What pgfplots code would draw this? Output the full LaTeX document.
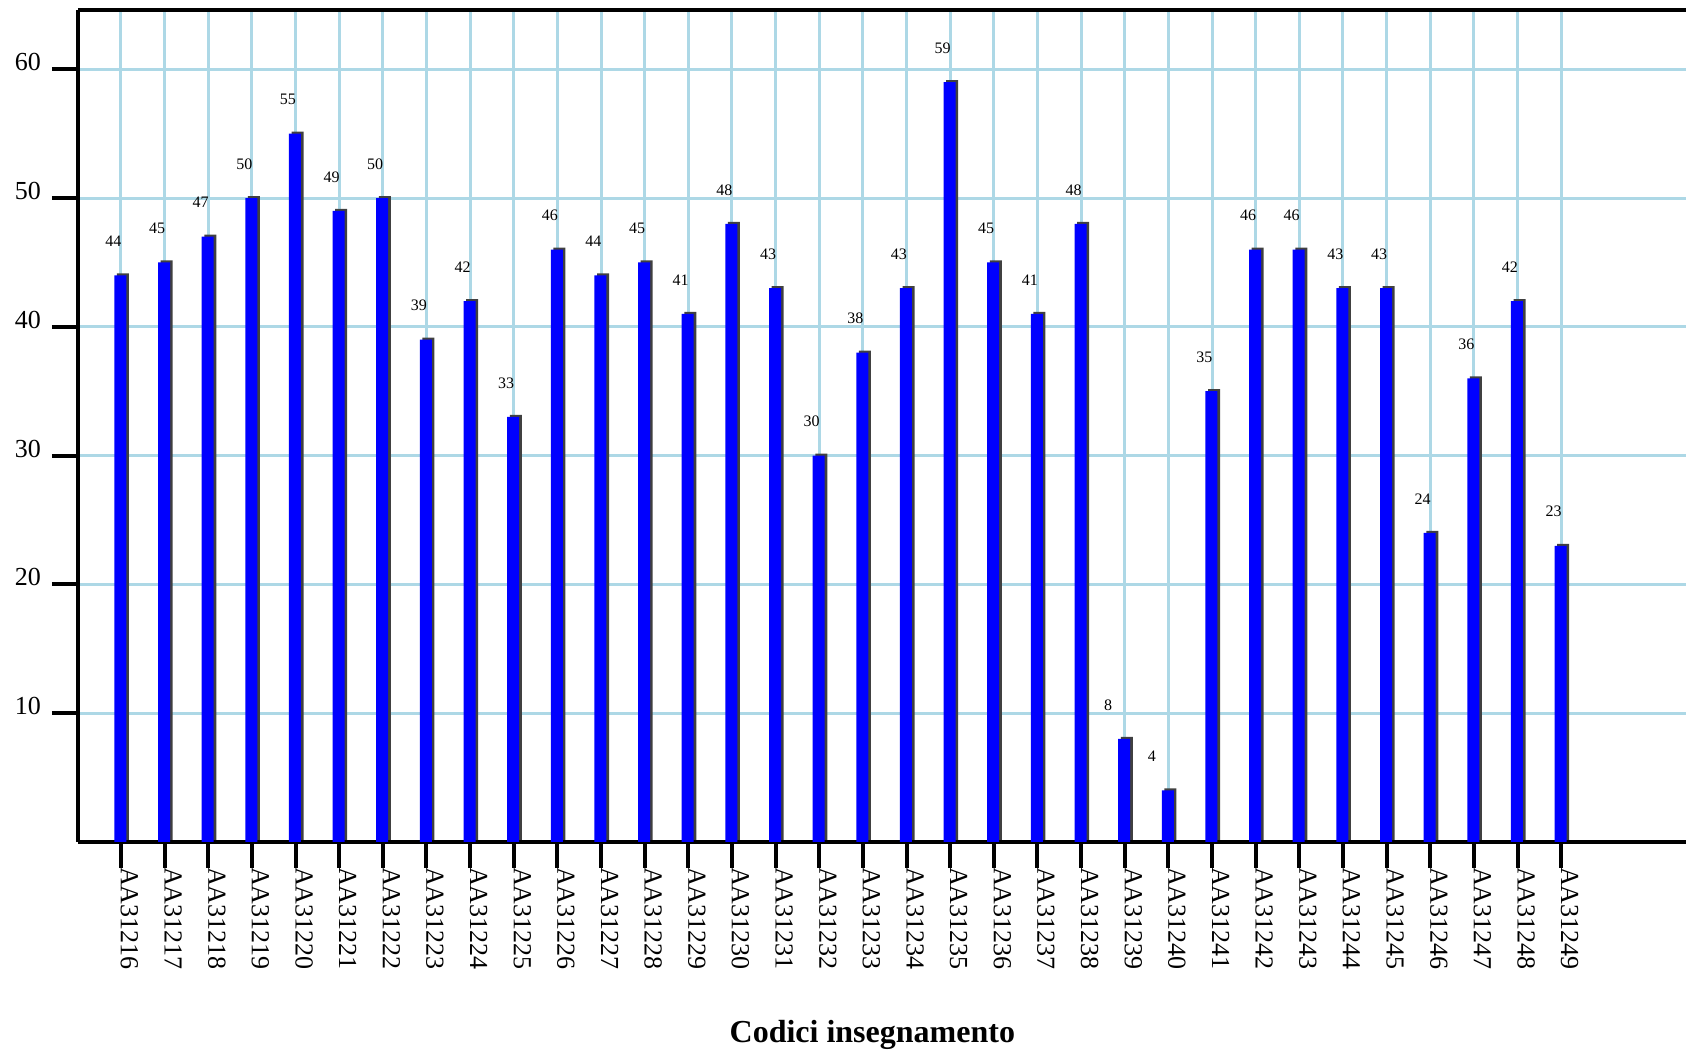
\documentclass[border=0pt]{standalone}
\usepackage{fontspec}
\setmainfont{Liberation Serif}
\usepackage{pgfplots}
\pgfplotsset{compat=1.18}
\definecolor{gridblue}{RGB}{173,216,230}
\definecolor{shadowgray}{RGB}{64,64,64}
\begin{document}
\begin{tikzpicture}
\useasboundingbox (-39pt,-105pt) rectangle (804pt,421pt);
\begin{axis}[
  at={(0pt,0pt)}, anchor=south west,
  scale only axis, width=804pt, height=416pt,
  xmin=-0.985, xmax=35.86, ymin=0, ymax=64.6,
  axis x line*=box, axis y line*=left,
  axis line style={-, line width=2.4pt, black},
  xtick={0,...,33},
  xticklabels={AA31216,AA31217,AA31218,AA31219,AA31220,AA31221,AA31222,AA31223,AA31224,AA31225,AA31226,AA31227,AA31228,AA31229,AA31230,AA31231,AA31232,AA31233,AA31234,AA31235,AA31236,AA31237,AA31238,AA31239,AA31240,AA31241,AA31242,AA31243,AA31244,AA31245,AA31246,AA31247,AA31248,AA31249},
  xtick pos=left, xticklabel pos=left,
  ytick={10,20,...,60},
  tick align=outside, major tick length=13pt,
  tick style={line width=2pt, black},
  xmajorgrids, ymajorgrids,
  grid style={gridblue, line width=1.5pt},
  /pgf/number format/assume math mode=true,
  yticklabel style={font=\fontsize{13}{15}\selectfont, yshift=3.5pt, xshift=-2pt},
  xticklabel style={font=\fontsize{13}{15}\selectfont, yshift=4pt, rotate=-90, anchor=base west},
  xlabel={Codici insegnamento},
  xlabel style={font=\fontsize{16}{18}\selectfont\bfseries, at={(axis description cs:0.494,0)}, anchor=center, yshift=-96.5pt},
  clip=false,
]
% shadow bars
\addplot[ybar, bar width=6pt, bar shift=1pt, fill=shadowgray, draw=none, yshift=1pt] coordinates {
(0,44) (1,45) (2,47) (3,50) (4,55) (5,49) (6,50) (7,39) (8,42) (9,33)
(10,46) (11,44) (12,45) (13,41) (14,48) (15,43) (16,30) (17,38) (18,43) (19,59)
(20,45) (21,41) (22,48) (23,8) (24,4) (25,35) (26,46) (27,46) (28,43) (29,43)
(30,24) (31,36) (32,42) (33,23)};
% blue bars
\addplot[ybar, bar width=6pt, bar shift=-0.3pt, fill=blue, draw=none] coordinates {
(0,44) (1,45) (2,47) (3,50) (4,55) (5,49) (6,50) (7,39) (8,42) (9,33)
(10,46) (11,44) (12,45) (13,41) (14,48) (15,43) (16,30) (17,38) (18,43) (19,59)
(20,45) (21,41) (22,48) (23,8) (24,4) (25,35) (26,46) (27,46) (28,43) (29,43)
(30,24) (31,36) (32,42) (33,23)};
% value labels (two digits)
\addplot[draw=none, mark=none, nodes near coords,
  nodes near coords style={anchor=center, xshift=-3.8pt, yshift=17pt, font=\fontsize{8}{9}\selectfont, text=black}] coordinates {
(0,44) (1,45) (2,47) (3,50) (4,55) (5,49) (6,50) (7,39) (8,42) (9,33)
(10,46) (11,44) (12,45) (13,41) (14,48) (15,43) (16,30) (17,38) (18,43) (19,59)
(20,45) (21,41) (22,48) (25,35) (26,46) (27,46) (28,43) (29,43)
(30,24) (31,36) (32,42) (33,23)};
% value labels (one digit)
\addplot[draw=none, mark=none, nodes near coords,
  nodes near coords style={anchor=center, xshift=-8.3pt, yshift=17pt, font=\fontsize{8}{9}\selectfont, text=black}] coordinates {
(23,8) (24,4)};
\end{axis}
\end{tikzpicture}
\end{document}
